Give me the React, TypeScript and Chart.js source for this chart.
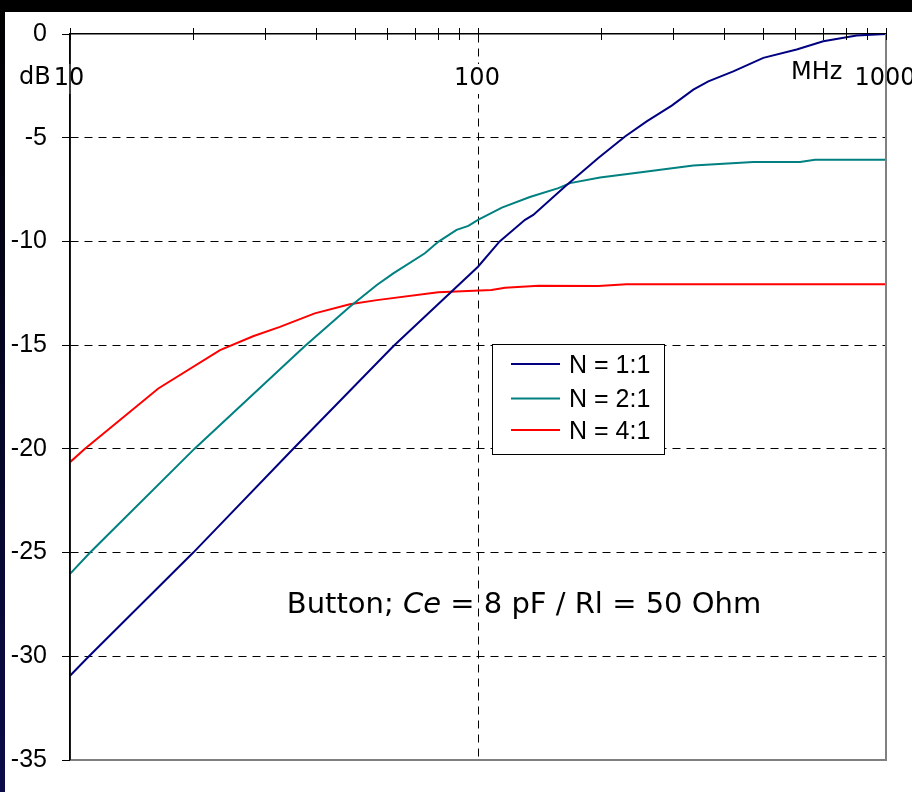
import React, { useEffect, useRef } from "react";
import { Chart, registerables } from "chart.js";

Chart.register(...registerables);

// ---- data ----
const xTickValues = [10, 20, 30, 40, 50, 60, 70, 80, 90, 100, 200, 300, 400, 500, 600, 700, 800, 900, 1000];
const xLabelValues = [10, 100, 1000];

const seriesNames = ["N = 1:1", "N = 2:1", "N = 4:1"];
const seriesColors = ["#000080", "#008080", "#FF0000"];

const freq11 = [10, 11.1, 20.05, 35.3, 62.0, 100, 113, 130.4, 136.6, 163.4, 197.2, 229.3, 259.1, 298.4, 337.1, 366.9, 422.4, 500.4, 604, 702, 847.6, 1000];
const db11 = [-30.94, -30.02, -25.0, -19.98, -15.05, -11.22, -10.0, -8.96, -8.72, -7.35, -5.98, -4.94, -4.21, -3.45, -2.68, -2.28, -1.8, -1.15, -0.75, -0.35, -0.07, 0];

const freq21 = [10, 11.2, 20.2, 37.6, 48.5, 56.5, 62.0, 74.1, 79.9, 88.6, 94.7, 100, 114.4, 134.0, 157.4, 168.1, 199.1, 240.3, 337.1, 399.3, 473.1, 615.6, 669.9, 801.1, 1000];
const db21 = [-26.03, -25.0, -19.99, -15.05, -13.15, -12.1, -11.54, -10.57, -10.02, -9.44, -9.25, -8.96, -8.37, -7.86, -7.43, -7.19, -6.92, -6.71, -6.34, -6.26, -6.17, -6.17, -6.06, -6.06, -6.06];

const freq41 = [10, 10.88, 16.46, 23.32, 28.1, 32.7, 39.8, 48.5, 56.5, 79.9, 107.9, 116.5, 140.8, 197.2, 231.3, 1000];
const db41 = [-20.64, -19.99, -17.09, -15.24, -14.57, -14.12, -13.47, -13.03, -12.83, -12.45, -12.34, -12.23, -12.14, -12.15, -12.07, -12.07];

const seriesFreqs = [freq11, freq21, freq41];
const seriesDb = [db11, db21, db41];

const annotationParts = [
  { text: "Button; ", italic: false },
  { text: "Ce", italic: true },
  { text: " = 8 pF / Rl = 50 Ohm", italic: false },
];

const decorPlugin = {
  id: "decor",
  beforeDraw(chart: any) {
    const { ctx, width, height } = chart;
    ctx.save();
    ctx.fillStyle = "#ffffff";
    ctx.fillRect(0, 0, width, height);
    ctx.fillStyle = "#000000";
    ctx.fillRect(0, 0, width, 12);
    const g = ctx.createLinearGradient(0, 0, 0, height);
    g.addColorStop(0, "#000000");
    g.addColorStop(1, "#0c0c4a");
    ctx.fillStyle = g;
    ctx.fillRect(0, 0, 5, height);
    ctx.restore();
  },
  afterDraw(chart: any) {
    const { ctx, chartArea: a, scales } = chart;
    const xs = scales.x;
    ctx.save();

    // x tick labels inside plot (opaque background)
    ctx.font = '24px "DejaVu Sans"';
    ctx.textAlign = "center";
    ctx.textBaseline = "middle";
    xLabelValues.forEach((v) => {
      const px = xs.getPixelForValue(v) - 1;
      const w = ctx.measureText(String(v)).width;
      ctx.fillStyle = "#ffffff";
      ctx.fillRect(px - w / 2 - 2, a.top + 30, w + 4, 30);
      ctx.fillStyle = "#000000";
      ctx.fillText(String(v), px, a.top + 45);
    });
    ctx.textAlign = "left";
    ctx.fillText("dB", 19, a.top + 44);
    ctx.fillText("MHz", 791, a.top + 39);

    // plot-area border (right & bottom)
    ctx.strokeStyle = "#808080";
    ctx.lineWidth = 2;
    ctx.beginPath();
    ctx.moveTo(a.left, a.bottom);
    ctx.lineTo(a.right, a.bottom);
    ctx.lineTo(a.right, a.top);
    ctx.stroke();

    // y axis line on top of labels
    ctx.strokeStyle = "#000000";
    ctx.lineWidth = 1.5;
    ctx.beginPath();
    ctx.moveTo(a.left, a.top);
    ctx.lineTo(a.left, a.bottom);
    ctx.stroke();

    // x-axis tick marks crossing the top axis line
    ctx.lineWidth = 1;
    xTickValues.forEach((v) => {
      const px = Math.round(xs.getPixelForValue(v)) + 0.5;
      ctx.beginPath();
      ctx.moveTo(px, a.top - 6);
      ctx.lineTo(px, a.top + 6);
      ctx.stroke();
    });

    // annotation text
    const drawFont = (it: boolean) => (it ? 'italic 29px "DejaVu Sans"' : '29px "DejaVu Sans"');
    let total = 0;
    annotationParts.forEach((p) => {
      ctx.font = drawFont(p.italic);
      total += ctx.measureText(p.text).width;
    });
    let tx = 524 - total / 2;
    ctx.fillStyle = "#000000";
    ctx.textBaseline = "middle";
    annotationParts.forEach((p) => {
      ctx.font = drawFont(p.italic);
      ctx.fillText(p.text, tx, 605);
      tx += ctx.measureText(p.text).width;
    });

    // legend
    const bx = a.left + 422, by = a.top + 310, bw = 172, bh = 110;
    ctx.fillStyle = "#ffffff";
    ctx.fillRect(bx, by, bw, bh);
    ctx.strokeStyle = "#000000";
    ctx.lineWidth = 1;
    ctx.strokeRect(bx + 0.5, by + 0.5, bw, bh);
    const rows = [by + 20, by + 54.5, by + 86];
    chart.data.datasets.forEach((ds: any, i: number) => {
      ctx.strokeStyle = ds.borderColor;
      ctx.lineWidth = 2;
      ctx.beginPath();
      ctx.moveTo(bx + 19, rows[i]);
      ctx.lineTo(bx + 68, rows[i]);
      ctx.stroke();
      ctx.fillStyle = "#000000";
      ctx.font = '25px "Liberation Sans"';
      ctx.textAlign = "left";
      ctx.textBaseline = "middle";
      ctx.fillText(ds.label, bx + 77, rows[i] + 2);
    });
    ctx.restore();
  },
};

export default function App() {
  const canvasRef = useRef<HTMLCanvasElement | null>(null);

  useEffect(() => {
    if (!canvasRef.current) return;
    const datasets = seriesNames.map((name, i) => ({
      label: name,
      data: seriesFreqs[i].map((f, j) => ({ x: f, y: seriesDb[i][j] })),
      borderColor: seriesColors[i],
      backgroundColor: seriesColors[i],
      borderWidth: 2,
      pointRadius: 0,
      tension: 0,
      fill: false,
    }));
    const chart = new Chart(canvasRef.current, {
      type: "line",
      data: { datasets },
      plugins: [decorPlugin],
      options: {
        responsive: false,
        animation: false,
        devicePixelRatio: 1,
        layout: { padding: { top: 0, right: 26, bottom: 32, left: 0 } },
        plugins: { legend: { display: false }, tooltip: { enabled: false } },
        scales: {
          x: {
            type: "logarithmic",
            position: "top",
            min: 10,
            max: 1000,
            afterBuildTicks: (scale: any) => {
              scale.ticks = xTickValues.map((v) => ({ value: v }));
            },
            afterFit: (scale: any) => {
              scale.height = 34;
            },
            ticks: { display: false },
            grid: {
              drawTicks: false,
              lineWidth: 1,
              color: (c: any) => (c.tick && c.tick.value === 100 ? "#000000" : "rgba(0,0,0,0)"),
            },
            border: { display: true, color: "#000000", width: 1.5, dash: [8, 6] },
          },
          y: {
            type: "linear",
            min: -35,
            max: 0,
            afterFit: (scale: any) => {
              scale.width = 70;
            },
            ticks: {
              stepSize: 5,
              padding: 15,
              color: "#000000",
              font: { family: '"Liberation Sans"', size: 25 },
            },
            grid: {
              drawTicks: true,
              tickLength: 8,
              tickColor: "#000000",
              tickWidth: 1,
              lineWidth: 1,
              color: (c: any) =>
                c.tick && (c.tick.value === 0 || c.tick.value === -35) ? "rgba(0,0,0,0)" : "#000000",
            },
            border: { display: true, color: "#000000", width: 1.5, dash: [8, 6] },
          },
        },
      },
    } as any);
    return () => chart.destroy();
  }, []);

  return (
    <div style={{ position: "fixed", left: 0, top: 0, width: 912, height: 792 }}>
      <canvas ref={canvasRef} width={912} height={792} style={{ display: "block" }} />
    </div>
  );
}
